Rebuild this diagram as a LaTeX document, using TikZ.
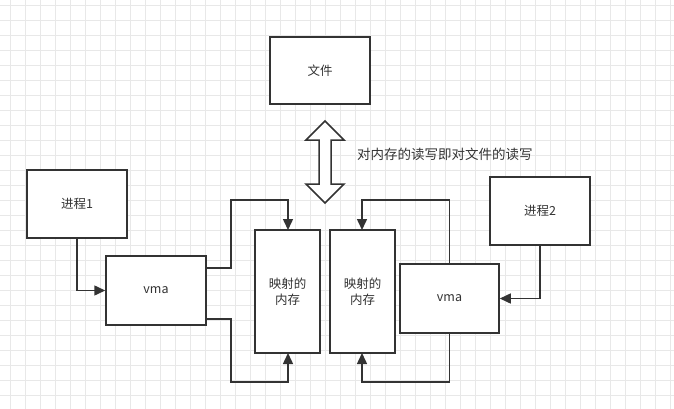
\documentclass[tikz,border=0pt]{standalone}
\usepackage{fontspec}
\setmainfont{Noto Sans CJK SC}
\usetikzlibrary{arrows.meta,shapes.arrows}
\begin{document}
\begin{tikzpicture}[x=1pt,y=-1pt,
  box/.style={draw=black!80,line width=1.5pt,fill=white,inner sep=0pt,font=\fontsize{12.5}{16}\selectfont,text=black!80,align=center},
  conn/.style={draw=black!80,line width=1.5pt,-{Triangle[length=11pt,width=10pt]}}]
\useasboundingbox (0,0) rectangle (674,409);
\fill[white] (0,0) rectangle (674,409);
\foreach \i in {10,25,...,670} \draw[black!9,line width=0.5pt] (\i,0) -- (\i,409);
\foreach \j in {5,20,...,405} \draw[black!9,line width=0.5pt] (0,\j) -- (674,\j);
\node[box,minimum width=100pt,minimum height=67pt] (f) at (320,70.5) {文件};
\node[box,minimum width=100pt,minimum height=68pt] (p1) at (77,204) {进程1};
\node[box,minimum width=100pt,minimum height=69pt] (v1) at (156,290.5) {vma};
\node[box,minimum width=65pt,minimum height=123pt] (m1) at (287.5,291.5) {映射的\\内存};
\node[box,minimum width=65pt,minimum height=123pt] (m2) at (362.5,291.5) {映射的\\内存};
\node[box,minimum width=99pt,minimum height=69pt] (v2) at (449.5,298.5) {vma};
\node[box,minimum width=100pt,minimum height=68pt] (p2) at (540,211) {进程2};
\node[font=\fontsize{13.5}{16}\selectfont,text=black!80,anchor=west,inner sep=0pt] (lbl) at (357,154) {对内存的读写即对文件的读写};
\draw[draw=black!80,line width=1.5pt,fill=white]
  (306,140)--(325,121)--(344,140)--(331,140)--(331,184)--(344,184)--(325,203)--(306,184)--(319,184)--(319,140)--cycle;
\draw[conn] (p1.south) |- (v1.west);
\draw[conn] (v1.east |- 0,268) -- (231,268) |- (288,200) -- (288,230);
\draw[conn] (v1.east |- 0,319) -- (231,319) |- (288,382) -- (288,353);
\draw[conn] (v2.north) |- (362,200) -- (362,230);
\draw[conn] (v2.south) |- (362,382) -- (362,353);
\draw[conn] (p2.south) |- (v2.east);
\end{tikzpicture}
\end{document}
